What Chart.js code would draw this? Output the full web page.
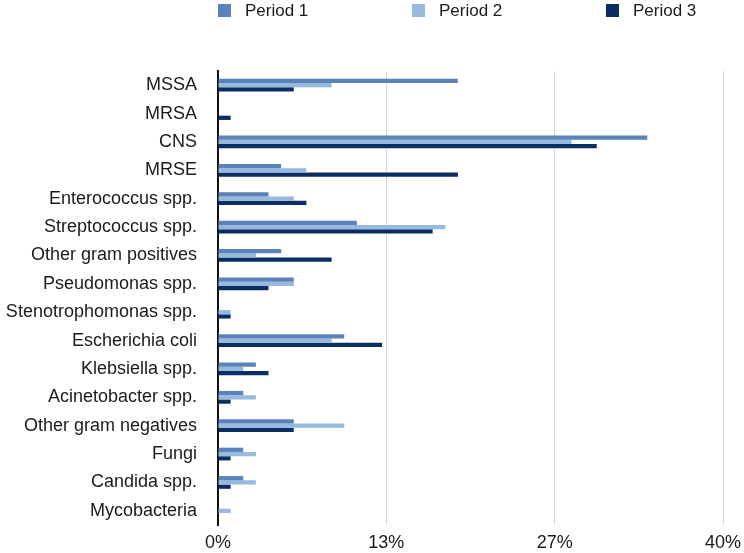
<!DOCTYPE html>
<html>
<head>
<meta charset="utf-8">
<script src="https://cdn.jsdelivr.net/npm/chart.js@4/dist/chart.umd.min.js"></script>
<style>
	body{margin:0;background:#fff;font-family:"Liberation Sans",Arial,sans-serif}
	#wrap{position:relative;width:744px;height:553px}
	.leg{position:absolute;top:1px;height:20px;font-size:17px;color:#1a1a1a;line-height:20px}
	.leg span{position:absolute;top:3px;width:13px;height:13px}
	.leg b{position:absolute;font-weight:normal;white-space:nowrap}
</style>
</head>
<body>
<div id="wrap">
	<canvas id="bar" width="744" height="553"></canvas>
</div>
<script>
var categories = ["MSSA","MRSA","CNS","MRSE","Enterococcus spp.","Streptococcus spp.","Other gram positives","Pseudomonas spp.","Stenotrophomonas spp.","Escherichia coli","Klebsiella spp.","Acinetobacter spp.","Other gram negatives","Fungi","Candida spp.","Mycobacteria"]
var period1 = [19,0,34,5,4,11,5,6,0,10,3,2,6,2,2,0]
var period2 = [9,0,28,7,6,18,3,6,1,9,2,3,10,3,3,1]
var period3 = [6,1,30,19,7,17,9,4,1,13,4,1,6,1,1,0]
var seriesNames = ["Period 1","Period 2","Period 3"]
var couleurs = ["#5b83b9","#95b9df","#0b2e62"]
var tickValues = [0,40/3,80/3,40]

// legende en html
var legX = [218,412,606]
var wrap = document.getElementById("wrap")
for(var i=0;i<seriesNames.length;i++){
	var d = document.createElement("div")
	d.className = "leg"
	d.style.left = legX[i] + "px"
	d.innerHTML = '<span style="left:0;background:' + couleurs[i] + '"></span><b style="left:27px">' + seriesNames[i] + '</b>'
	wrap.appendChild(d)
}

var series = [period1,period2,period3]
var donnees = {labels: categories, datasets: []}
for(var i=0;i<series.length;i++){
	donnees.datasets.push({label: seriesNames[i], data: series[i], backgroundColor: couleurs[i], borderWidth: 0})
}

new Chart("bar", {type: "bar",
	data: donnees,
	options: {
		indexAxis: "y",
		responsive: false,
		animation: false,
		categoryPercentage: 0.45,
		barPercentage: 1,
		layout: {padding: {top: 71, left: 3, right: 21, bottom: 0}},
		plugins: {legend: {display: false}, tooltip: {enabled: false}},
		scales: {
			x: {
				min: 0, max: 40,
				afterBuildTicks: function(ax){ ax.ticks = tickValues.map(function(v){ return {value: v} }) },
				afterFit: function(ax){ ax.height = 28; ax.paddingLeft = 0; ax.paddingRight = 0 },
				ticks: {
					padding: 9,
					color: "#1a1a1a",
					font: {family: "Liberation Sans", size: 18, lineHeight: 1},
					callback: function(v){ return Math.round(v) + "%" }
				},
				grid: {color: "#d9d9d9", lineWidth: 1, drawTicks: false},
				border: {display: false}
			},
			y: {
				afterFit: function(ax){ ax.width = 215; ax.paddingTop = 0; ax.paddingBottom = 0 },
				ticks: {
					padding: 21,
					color: "#1a1a1a",
					font: {family: "Liberation Sans", size: 18}
				},
				grid: {display: false, drawTicks: false},
				border: {display: true, color: "#111", width: 2}
			}
		}
	}
})
</script>
</body>
</html>
